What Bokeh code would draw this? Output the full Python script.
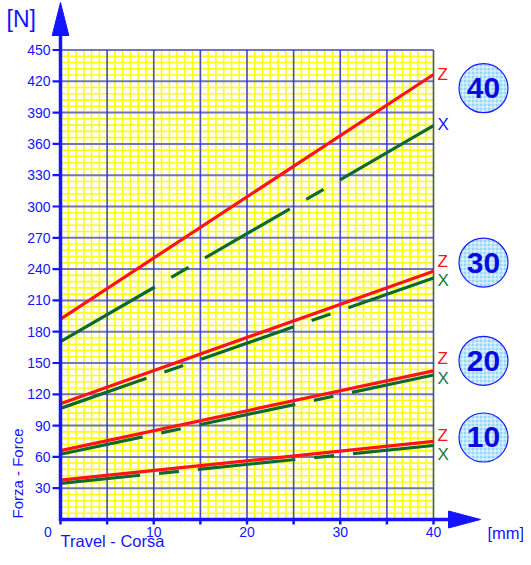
import math
from bokeh.plotting import figure
from bokeh.models import Range1d
from bokeh.core.properties import value
from bokeh.embed import file_html
from bokeh.resources import INLINE

# ---------------- data ----------------
travel = [0, 40]                      # mm
sizes = ["10", "20", "30", "40"]
z10 = [37.8, 74.8]
x10 = [34.7, 70.9]
z20 = [66.0, 142.5]
x20 = [62.5, 138.5]
z30 = [111.0, 238.0]
x30 = [106.5, 231.5]
z40 = [192.0, 426.5]
x40 = [170.5, 377.5]
z_series = [z10, z20, z30, z40]
x_series = [x10, x20, x30, x40]

x_ticks = [0, 5, 10, 15, 20, 25, 30, 35, 40]
x_tick_labels = [0, 10, 20, 30, 40]
y_ticks = list(range(30, 451, 30))

# ---------------- layout ----------------
W, H = 523, 549
PX0, PX40 = 60.0, 433.0     # picture px of x=0 and x=40
PY0, PY450 = 519.0, 49.5    # picture px of y=0 and y=450
sx = (PX40 - PX0) / 40.0
sy = (PY0 - PY450) / 450.0

def dx(px):   # screen px -> data x units
    return px / sx

def dy(px):
    return px / sy

x_start = (0 - PX0) / sx
x_end = (W - PX0) / sx
y_end = (PY0 - 0) / sy
y_start = (PY0 - H) / sy

FONT = value("Liberation Sans")
BLUE = "#1414ff"
RED = "#ff1414"
GREEN_LINE = "#0c6a2e"
GREEN_TXT = "#1a7a36"

p = figure(width=W, height=H, x_range=Range1d(x_start, x_end),
           y_range=Range1d(y_start, y_end), x_axis_type=None, y_axis_type=None,
           toolbar_location=None, output_backend="svg", min_border=0,
           outline_line_color=None, background_fill_color="white",
           border_fill_color="white")
p.xgrid.visible = False
p.ygrid.visible = False

XMAX, YMAX = 40, 450

# minor (yellow) grid
xs_minor = [i * 5 / 6 for i in range(49)]
ys_minor = [6 * i for i in range(76)]
p.segment(x0=xs_minor, y0=0, x1=xs_minor, y1=YMAX, line_color="#ffff10", line_width=1.6)
p.segment(x0=0, y0=ys_minor, x1=XMAX, y1=ys_minor, line_color="#ffff10", line_width=1.6)

# major (blue) grid
xs_major = x_ticks
ys_major = [0] + y_ticks
p.segment(x0=xs_major, y0=0, x1=xs_major, y1=YMAX, line_color="#1a1aff", line_width=1.6, line_alpha=0.8)
p.segment(x0=0, y0=ys_major, x1=XMAX, y1=ys_major, line_color="#2a2aff", line_width=2.0, line_alpha=0.65)

# curves: dash-dot pattern laid out symmetrically on each line (CAD style)
def dash_for(ys):
    length = math.hypot((travel[1] - travel[0]) * sx, (ys[1] - ys[0]) * sy)
    end = int(round((length - 214) / 2))
    return f"{end} 19 20 19 98 19 20 19 {end + 5}"

for zs, xs in zip(z_series, x_series):
    p.line(travel, zs, line_color=RED, line_width=3.2)
    p.line(travel, xs, line_color=GREEN_LINE, line_width=3.2, line_dash=dash_for(xs))

# axes lines + arrows
yarrow_base = YMAX + dy(PY450 - 35)
yarrow_tip = y_end - dy(2)
xarrow_base = XMAX + dx(448 - PX40)
xarrow_tip = XMAX + dx(480 - PX40)
p.segment(x0=[0], y0=[-dy(1.5)], x1=[0], y1=[yarrow_base], line_color=BLUE, line_width=3.5)
p.segment(x0=[-dx(1.5)], y0=[0], x1=[xarrow_base], y1=[0], line_color=BLUE, line_width=3.5)
p.patches(xs=[[-dx(8.3), dx(8.3), 0], [xarrow_base, xarrow_base, xarrow_tip]],
          ys=[[yarrow_base, yarrow_base, yarrow_tip], [-dy(8.5), dy(8.5), 0]],
          fill_color=BLUE, line_color=BLUE, line_width=1)

# ticks
p.segment(x0=-dx(8), y0=y_ticks, x1=0, y1=y_ticks, line_color=BLUE, line_width=2.2)
p.segment(x0=x_ticks, y0=0, x1=x_ticks, y1=-dy(5), line_color=BLUE, line_width=2.5)

# tick labels
p.text(x=-dx(10), y=y_ticks, text=[str(v) for v in y_ticks], text_font=FONT,
       text_font_size="14px", text_color=BLUE, text_align="right", text_baseline="middle")
xl = [t if t > 0 else t - dx(12.5) for t in x_tick_labels]
p.text(x=xl, y=-dy(12), text=[str(v) for v in x_tick_labels], text_font=FONT,
       text_font_size="14px", text_color=BLUE, text_align="center", text_baseline="middle")

# axis titles
p.text(x=[x_start + dx(6)], y=[dy(PY0 - 18)], text=["[N]"], text_font=FONT,
       text_font_size="23px", text_color=BLUE, text_align="left", text_baseline="middle")
p.text(x=[-dx(43)], y=[dy(PY0 - 473)], text=["Forza - Force"], text_font=FONT,
       text_font_size="15px", text_color=BLUE, text_align="center", text_baseline="middle",
       angle=math.pi / 2)
p.text(x=[0], y=[dy(PY0 - 540)], text=["Travel - Corsa"], text_font=FONT,
       text_font_size="16.5px", text_color=BLUE, text_align="left", text_baseline="middle")
p.text(x=[XMAX + dx(487 - PX40)], y=[-dy(13)], text=["[mm]"], text_font=FONT,
       text_font_size="16.5px", text_color=BLUE, text_align="left", text_baseline="middle")

# series end labels
z_lab_dy = [6.0, 11.5, 9.0, 0.0]
x_lab_dy = [-9.0, -3.5, -2.5, 1.5]
lab_x = XMAX + dx(4)
p.text(x=lab_x, y=[s[-1] + d for s, d in zip(z_series, z_lab_dy)], text=["Z"] * 4,
       text_font=FONT, text_font_size="17px", text_color=RED, text_align="left",
       text_baseline="middle")
p.text(x=lab_x, y=[s[-1] + d for s, d in zip(x_series, x_lab_dy)], text=["X"] * 4,
       text_font=FONT, text_font_size="17px",
       text_color=[GREEN_TXT, GREEN_TXT, GREEN_TXT, BLUE], text_align="left",
       text_baseline="middle")

# size badges
badge_x = XMAX + dx(483 - PX40)
badge_y = [78.6, 152.1, 246.3, 413.4]
p.scatter(x=badge_x, y=badge_y, marker="circle", size=49, fill_color="#97d6ff",
          line_color="#1a1aff", line_width=1.2, hatch_pattern="+", hatch_color="white",
          hatch_scale=4, hatch_weight=1, hatch_alpha=0.8)
p.text(x=badge_x, y=badge_y, text=sizes, text_font=FONT, text_font_size="30px",
       text_font_style="bold", text_color="#0a0ae0", text_align="center",
       text_baseline="middle")

open("out.html", "w").write(file_html(p, INLINE))
